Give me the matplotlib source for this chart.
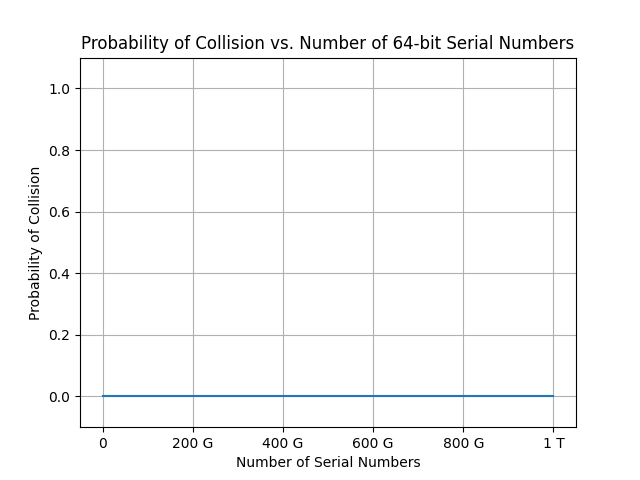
import matplotlib
matplotlib.use("Agg")
import matplotlib.pyplot as plt
from matplotlib.ticker import EngFormatter

serial_counts = [0, 2e11, 4e11, 6e11, 8e11, 1e12]
collision_prob = [0.0, 0.0, 0.0, 0.0, 0.0, 0.0]

fig, ax = plt.subplots(figsize=(6.4, 4.8), dpi=100)
ax.plot(serial_counts, collision_prob)
ax.set_ylim(-0.1, 1.1)
ax.xaxis.set_major_formatter(EngFormatter())
ax.set_title("Probability of Collision vs. Number of 64-bit Serial Numbers")
ax.set_xlabel("Number of Serial Numbers")
ax.set_ylabel("Probability of Collision")
ax.grid(True)
fig.savefig("out.png")
